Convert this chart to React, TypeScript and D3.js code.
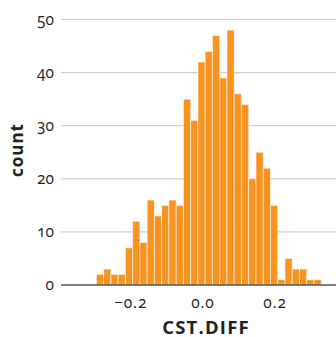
import React, { useEffect, useRef } from 'react';
import * as d3 from 'd3';

// histogram of CST.DIFF, bins
const binStart = -0.295;
const binWidth = 0.0201;
const counts = [2, 3, 2, 2, 7, 12, 8, 16, 13, 15, 16, 15, 35, 31, 42, 44, 47, 39, 48, 36, 34, 20, 25, 22, 15, 1, 5, 3, 3, 1, 1];
const xTicks = [-0.2, 0.0, 0.2];
const yTicks = [0, 10, 20, 30, 40, 50];

const App = () => {
  const svgRef = useRef<SVGSVGElement>(null);

  useEffect(() => {
    const svg = d3.select(svgRef.current);
    svg.selectAll('*').remove();

    const width = 336;
    const height = 337;
    const font = '"Open Sans", sans-serif';

    const x = d3.scaleLinear().domain([-0.393, 0.369]).range([61, 336]);
    const y = d3.scaleLinear().domain([0, 50]).range([285, 19.5]);

    const bins = counts.map((c, i) => ({
      x0: binStart + i * binWidth,
      x1: binStart + (i + 1) * binWidth,
      count: c,
    }));

    svg.attr('width', width).attr('height', height);

    // gridlines
    svg.append('g')
      .selectAll('line')
      .data(yTicks.filter(t => t > 0))
      .enter()
      .append('line')
      .attr('x1', 61)
      .attr('x2', width)
      .attr('y1', d => y(d))
      .attr('y2', d => y(d))
      .attr('stroke', '#cfcfcf')
      .attr('stroke-width', 1.2);

    svg.append('g')
      .selectAll('rect')
      .data(bins)
      .enter()
      .append('rect')
      .attr('x', d => x(d.x0))
      .attr('y', d => y(d.count))
      .attr('width', d => x(d.x1) - x(d.x0))
      .attr('height', d => y(0) - y(d.count))
      .attr('fill', '#f7931e')
      .attr('stroke', '#ffffff')
      .attr('stroke-opacity', 0.6)
      .attr('stroke-width', 1);

    // baseline
    svg.append('line')
      .attr('x1', 61)
      .attr('x2', width)
      .attr('y1', y(0))
      .attr('y2', y(0))
      .attr('stroke', '#555')
      .attr('stroke-width', 1.3);

    svg.append('g')
      .selectAll('text')
      .data(yTicks)
      .enter()
      .append('text')
      .attr('x', 54)
      .attr('y', d => y(d))
      .attr('dy', '0.35em')
      .attr('text-anchor', 'end')
      .attr('font-family', font)
      .attr('font-size', 15.5)
      .attr('fill', '#222')
      .style('font-variant-numeric', 'oldstyle-nums')
      .text(d => d3.format('d')(d));

    svg.append('g')
      .selectAll('text')
      .data(xTicks)
      .enter()
      .append('text')
      .attr('x', d => x(d))
      .attr('y', 307.5)
      .attr('text-anchor', 'middle')
      .attr('font-family', font)
      .attr('font-size', 15.5)
      .attr('letter-spacing', 0.8)
      .attr('fill', '#222')
      .style('font-variant-numeric', 'oldstyle-nums')
      .text(d => d3.format('.1f')(d).replace('-', '\u2212'));

    svg.append('text')
      .attr('x', 206)
      .attr('y', 333.5)
      .attr('text-anchor', 'middle')
      .attr('font-family', font)
      .attr('font-size', 18.5)
      .attr('font-weight', 'bold')
      .attr('letter-spacing', 1.2)
      .attr('fill', '#222')
      .text('CST.DIFF');

    svg.append('text')
      .attr('transform', `translate(22.5,150) rotate(-90)`)
      .attr('text-anchor', 'middle')
      .attr('font-family', font)
      .attr('font-size', 17)
      .attr('font-weight', 'bold')
      .attr('letter-spacing', 1)
      .attr('fill', '#222')
      .text('count');
  }, []);

  return <svg ref={svgRef} style={{ position: 'absolute', left: 0, top: 0 }}></svg>;
};

export default App;
